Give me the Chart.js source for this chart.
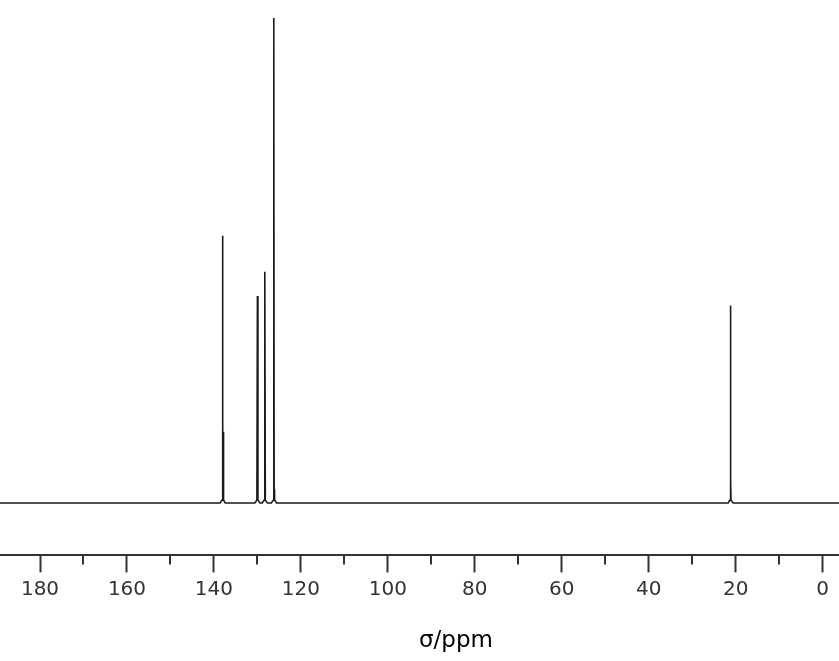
<!DOCTYPE html>
<html lang="en">

<head>
    <meta charset="UTF-8">
    <title>13C NMR spectrum</title>
    <script src="https://cdn.jsdelivr.net/npm/chart.js"></script>
    <style>
        body { margin: 0; background: #fff; overflow: hidden; }
        /* the plot runs past the right edge of the window, as in the original */
        #wrap { width: 912px; height: 661px; }
    </style>
</head>

<body>
    <div id="wrap"><canvas id="nmrChart"></canvas></div>

    <script>
        // peak list (shift in ppm, relative intensity, tallest = 100)
        const peakShift = [138.0, 137.85, 130.0, 128.3, 126.2, 126.15, 21.2, 21.15];
        const peakHeight = [55.1, 14.7, 42.7, 47.7, 100, 2.8, 40.7, 4.3];

        // axis
        const ppmMin = -20.54;
        const ppmMax = 189.2;
        const majorTicks = [0, 20, 40, 60, 80, 100, 120, 140, 160, 180];
        const minorTicks = [10, 30, 50, 70, 90, 110, 130, 150, 170];

        // turn the peak list into a stick trace on a flat baseline
        const trace = [{ x: ppmMax, y: 0 }, { x: ppmMin, y: 0 }];
        peakShift.forEach((s, i) => {
            trace.push({ x: s + 0.6, y: 0 });
            trace.push({ x: s + 0.12, y: 0.6 });
            trace.push({ x: s, y: peakHeight[i] });
            trace.push({ x: s - 0.12, y: 0.6 });
            trace.push({ x: s - 0.6, y: 0 });
        });
        trace.sort((a, b) => b.x - a.x);

        // short ticks between the labelled ones
        const minorTickPlugin = {
            id: 'minorTicks',
            afterDraw(chart) {
                const xs = chart.scales.x;
                const ctx = chart.ctx;
                ctx.save();
                ctx.strokeStyle = '#333';
                ctx.lineWidth = 2;
                minorTicks.forEach(v => {
                    const px = Math.round(xs.getPixelForValue(v));
                    ctx.beginPath();
                    ctx.moveTo(px, xs.top);
                    ctx.lineTo(px, xs.top + 9);
                    ctx.stroke();
                });
                ctx.restore();
            }
        };

        const ctx = document.getElementById('nmrChart').getContext('2d');
        new Chart(ctx, {
            type: 'line',
            data: {
                datasets: [{
                    data: trace,
                    borderColor: '#1a1a1a',
                    borderWidth: 1.6,
                    pointRadius: 0,
                    tension: 0
                }]
            },
            options: {
                responsive: true,
                maintainAspectRatio: false,
                animation: false,
                layout: { padding: { top: 0, left: 0, right: 0, bottom: 2 } },
                plugins: {
                    legend: { display: false },
                    tooltip: { enabled: false }
                },
                scales: {
                    x: {
                        type: 'linear',
                        reverse: true,
                        min: ppmMin,
                        max: ppmMax,
                        afterBuildTicks: scale => {
                            scale.ticks = majorTicks.map(v => ({ value: v }));
                        },
                        border: { color: '#333', width: 2 },
                        grid: {
                            drawOnChartArea: false,
                            tickLength: 17,
                            tickColor: '#333',
                            tickWidth: 2
                        },
                        ticks: {
                            includeBounds: false,
                            autoSkip: false,
                            maxRotation: 0,
                            padding: 5,
                            color: '#333',
                            font: { family: 'DejaVu Sans', size: 20 }
                        },
                        title: {
                            display: true,
                            text: 'σ/ppm',
                            color: '#000',
                            font: { family: 'DejaVu Sans', size: 23 },
                            padding: { top: 21, bottom: 4 }
                        }
                    },
                    y: {
                        display: false,
                        min: -10.8,
                        max: 103.7
                    }
                }
            },
            plugins: [minorTickPlugin]
        });
    </script>
</body>

</html>
